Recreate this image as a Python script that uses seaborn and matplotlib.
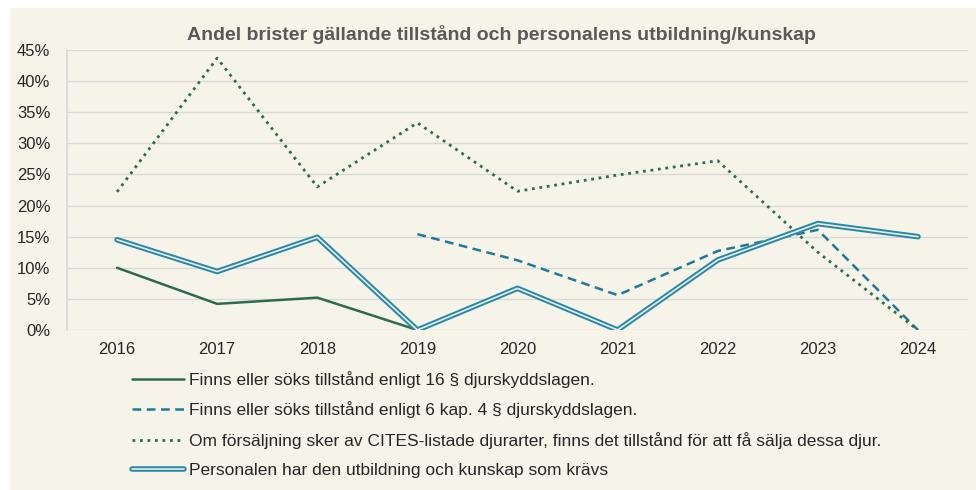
import pandas as pd
import numpy as np
import matplotlib
matplotlib.use("Agg")
import matplotlib.pyplot as plt
import matplotlib.patheffects as pe
from matplotlib.patches import Rectangle
import seaborn as sns

years = ["2016", "2017", "2018", "2019", "2020", "2021", "2022", "2023", "2024"]

tillstand_16 = [0.100, 0.042, 0.052, 0.0, np.nan, np.nan, np.nan, np.nan, np.nan]
tillstand_6kap = [np.nan, np.nan, np.nan, 0.154, 0.112, 0.056, 0.127, 0.161, 0.0]
cites = [0.222, 0.437, 0.230, 0.333, 0.223, 0.249, 0.272, 0.125, 0.0]
personal = [0.145, 0.094, 0.149, 0.0, 0.067, 0.0, 0.1125, 0.171, 0.150]

labels = [
    "Finns eller söks tillstånd enligt 16 § djurskyddslagen.",
    "Finns eller söks tillstånd enligt 6 kap. 4 § djurskyddslagen.",
    "Om försäljning sker av CITES-listade djurarter, finns det tillstånd för att få sälja dessa djur.",
    "Personalen har den utbildning och kunskap som krävs",
]

BG = "#F6F4E9"
GREEN = "#2D6A50"
TEAL = "#1F7A9A"
TEAL2 = "#2B87A3"

sns.set_theme(style="white")
plt.rcParams["font.family"] = ["Liberation Sans", "DejaVu Sans"]

fig = plt.figure(figsize=(9.76, 4.9), dpi=100)
fig.patch.set_facecolor("white")
fig.patches.append(Rectangle((10 / 976, 0), 1, 1 - 8 / 490, transform=fig.transFigure,
                             facecolor=BG, edgecolor="none", zorder=-10))

ax = fig.add_axes([67 / 976, 1 - 330 / 490, (968 - 67) / 976, 280 / 490])
ax.set_facecolor(BG)

x = np.arange(len(years))
df = pd.DataFrame({"x": x, "a": tillstand_16, "b": tillstand_6kap, "c": cites, "d": personal})

sns.lineplot(data=df, x="x", y="a", ax=ax, color=GREEN, lw=1.8, label=labels[0])
sns.lineplot(data=df, x="x", y="b", ax=ax, color=TEAL, lw=1.8, label=labels[1],
             dashes=False, linestyle=(0, (3.5, 2.2)))
sns.lineplot(data=df, x="x", y="c", ax=ax, color=GREEN, lw=2.0, label=labels[2],
             linestyle=(0, (1, 1.7)))
sns.lineplot(data=df, x="x", y="d", ax=ax, color="#E3EEEE", lw=1.2, label=labels[3],
             path_effects=[pe.Stroke(linewidth=4.0, foreground=TEAL2), pe.Normal()])

ax.set_xlim(-0.5, 8.5)
ax.set_ylim(0, 0.45)
ax.set_xticks(x)
ax.set_xticklabels(years)
ax.set_yticks(np.arange(0, 0.46, 0.05))
ax.yaxis.set_major_formatter(matplotlib.ticker.FuncFormatter(lambda v, p: f"{v * 100:.0f}%"))
ax.grid(axis="y", color="#D9D9D9", lw=1)
ax.set_axisbelow(True)
for s in ["top", "right", "bottom"]:
    ax.spines[s].set_visible(False)
ax.spines["left"].set_color("#D9D9D9")
ax.tick_params(axis="x", labelsize=12, colors="#262626", length=0, pad=9)
ax.tick_params(axis="y", labelsize=12, colors="#262626", length=0, pad=12)
ax.set_xlabel("")
ax.set_ylabel("")

fig.text(501 / 976, 1 - 35 / 490, "Andel brister gällande tillstånd och personalens utbildning/kunskap",
         ha="center", va="center", fontsize=14, fontweight="bold", color="#595959")

ax.get_legend().remove()
h, l = ax.get_legend_handles_labels()
leg = fig.legend(h, l, loc="upper left", bbox_to_anchor=(116 / 976, 1 - 355 / 490),
                 frameon=False, handlelength=3.0, handletextpad=0.3, labelspacing=0.8,
                 prop={"size": 12.5})
for t in leg.get_texts():
    t.set_color("#262626")

fig.savefig("out.png", dpi=100, facecolor=fig.get_facecolor())
